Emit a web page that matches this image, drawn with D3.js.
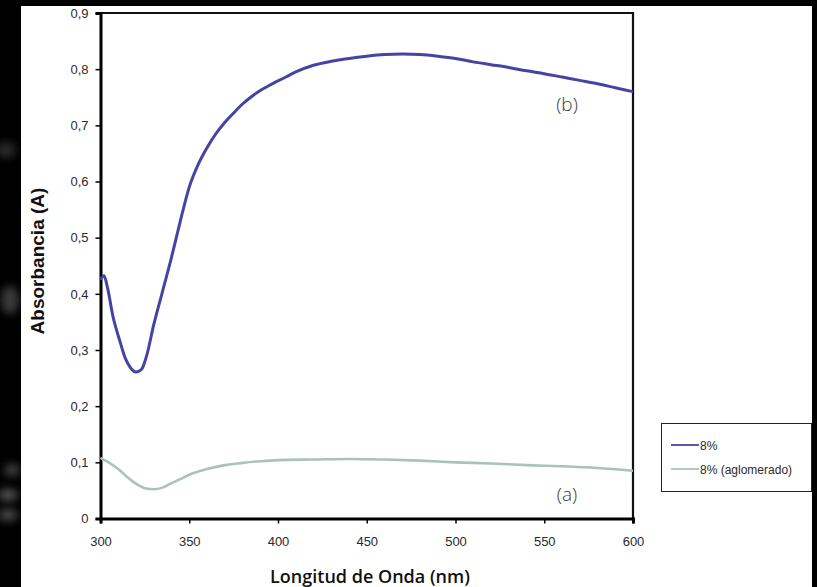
<!DOCTYPE html>
<html>
<head>
<meta charset="utf-8">
<script src="https://cdn.jsdelivr.net/npm/d3@7/dist/d3.min.js"></script>
<style>
  html, body { margin: 0; padding: 0; background: #000; }
  svg { display: block; }
</style>
</head>
<body>
<svg id="chart" width="817" height="587"></svg>
<script>
// Absorbance spectra (wavelength in nm, absorbance in A)
const wavelengthsB = [300, 302, 304, 307, 311, 314, 317, 320, 323, 326, 330, 335, 340, 345, 350, 355, 360, 365, 370, 375, 380, 385, 390, 395, 400, 405, 410, 420, 430, 440, 450, 460, 470, 480, 490, 500, 510, 520, 530, 540, 550, 560, 570, 580, 590, 600];
const absorbanceB = [0.425, 0.432, 0.410, 0.360, 0.315, 0.285, 0.268, 0.261, 0.265, 0.290, 0.345, 0.405, 0.465, 0.530, 0.590, 0.630, 0.660, 0.685, 0.705, 0.722, 0.738, 0.751, 0.762, 0.771, 0.779, 0.787, 0.795, 0.807, 0.814, 0.819, 0.823, 0.826, 0.827, 0.826, 0.823, 0.819, 0.813, 0.808, 0.803, 0.797, 0.792, 0.786, 0.780, 0.774, 0.767, 0.760];

const wavelengthsA = [300, 305, 310, 315, 320, 325, 330, 335, 340, 345, 350, 360, 370, 380, 390, 400, 420, 440, 460, 480, 500, 520, 540, 560, 580, 600];
const absorbanceA = [0.108, 0.099, 0.088, 0.074, 0.062, 0.054, 0.052, 0.055, 0.063, 0.070, 0.078, 0.088, 0.095, 0.099, 0.102, 0.104, 0.105, 0.106, 0.105, 0.103, 0.100, 0.098, 0.095, 0.093, 0.090, 0.085];

const seriesNames = ["8%", "8% (aglomerado)"];
const seriesColors = ["#4444a4", "#a9c3ba"];
const curveLabels = ["(b)", "(a)"];

const xTicks = [300, 350, 400, 450, 500, 550, 600];
const yTicks = [0, 0.1, 0.2, 0.3, 0.4, 0.5, 0.6, 0.7, 0.8, 0.9];

const svg = d3.select("#chart");

// soft grey smudges on the dark left margin
const defs = svg.append("defs");
defs.append("filter").attr("id", "soft")
  .attr("x", "-50%").attr("y", "-50%").attr("width", "200%").attr("height", "200%")
  .append("feGaussianBlur").attr("stdDeviation", 4);
const smudges = [
  { cx: 6, cy: 150, rx: 10, ry: 8, c: "#2a2a2a" },
  { cx: 10, cy: 300, rx: 9, ry: 14, c: "#3a3a3a" },
  { cx: 12, cy: 470, rx: 8, ry: 6, c: "#444" },
  { cx: 8, cy: 495, rx: 10, ry: 6, c: "#555" },
  { cx: 8, cy: 515, rx: 10, ry: 6, c: "#4a4a4a" }
];
svg.append("g").attr("filter", "url(#soft)")
  .selectAll("ellipse").data(smudges).join("ellipse")
  .attr("cx", d => d.cx).attr("cy", d => d.cy)
  .attr("rx", d => d.rx).attr("ry", d => d.ry)
  .attr("fill", d => d.c);

// white sheet
svg.append("rect")
  .attr("x", 21).attr("y", 6)
  .attr("width", 791).attr("height", 581)
  .attr("fill", "#fff");

const plot = { left: 100.5, right: 633, top: 13, bottom: 518.5 };

const x = d3.scaleLinear().domain([300, 600]).range([plot.left, plot.right]);
const y = d3.scaleLinear().domain([0, 0.9]).range([plot.bottom, plot.top]);

const fmtY = v => v === 0 ? "0" : d3.format(".1f")(v).replace(".", ",");

// frame: top and right sides
svg.append("path")
  .attr("d", `M${plot.left},${plot.top}H${plot.right}V${plot.bottom}`)
  .attr("fill", "none")
  .attr("stroke", "#111")
  .attr("stroke-width", 2.2);

const tickFont = sel => sel
  .attr("fill", "#2a2a2a")
  .style("font-family", "'Liberation Sans', Arial, sans-serif")
  .style("font-size", "13px");

// y axis
const yAxis = svg.append("g")
  .attr("transform", `translate(${plot.left},0)`)
  .call(d3.axisLeft(y).tickValues(yTicks).tickFormat(fmtY).tickSize(5).tickPadding(7));
yAxis.select(".domain").attr("stroke", "#000").attr("stroke-width", 3);
yAxis.selectAll(".tick line").attr("stroke", "#000").attr("stroke-width", 1.5);
yAxis.selectAll(".tick text").call(tickFont);

// x axis
const xAxis = svg.append("g")
  .attr("transform", `translate(0,${plot.bottom})`)
  .call(d3.axisBottom(x).tickValues(xTicks).tickFormat(d3.format("d")).tickSize(5).tickPadding(13));
xAxis.select(".domain").attr("stroke", "#000").attr("stroke-width", 3);
xAxis.selectAll(".tick line").attr("stroke", "#000").attr("stroke-width", 1.5);
xAxis.selectAll(".tick text").call(tickFont);

// axis titles
svg.append("text")
  .attr("x", 370).attr("y", 583)
  .attr("text-anchor", "middle")
  .style("font-family", "'Open Sans', sans-serif")
  .style("font-weight", 600)
  .style("font-size", "18px")
  .attr("fill", "#111")
  .text("Longitud de Onda (nm)");

svg.append("text")
  .attr("transform", "translate(44,261) rotate(-90)")
  .attr("text-anchor", "middle")
  .style("font-family", "'Liberation Sans', Arial, sans-serif")
  .style("font-weight", "bold")
  .style("font-size", "19px")
  .attr("fill", "#111")
  .text("Absorbancia (A)");

// spectra
const line = d3.line()
  .x(d => x(d[0]))
  .y(d => y(d[1]))
  .curve(d3.curveMonotoneX);

const dataB = wavelengthsB.map((w, i) => [w, absorbanceB[i]]);
const dataA = wavelengthsA.map((w, i) => [w, absorbanceA[i]]);

svg.append("path")
  .datum(dataA)
  .attr("d", line)
  .attr("fill", "none")
  .attr("stroke", seriesColors[1])
  .attr("stroke-width", 2.6)
  .attr("stroke-linejoin", "round");

svg.append("path")
  .datum(dataB)
  .attr("d", line)
  .attr("fill", "none")
  .attr("stroke", seriesColors[0])
  .attr("stroke-width", 3)
  .attr("stroke-linejoin", "round");

// curve annotations
const labelStyle = sel => sel
  .attr("text-anchor", "middle")
  .style("font-family", "'Open Sans', sans-serif")
  .style("font-weight", 300)
  .style("font-size", "19px")
  .attr("fill", "#3a3a3a");

svg.append("text").attr("x", 567).attr("y", 111).call(labelStyle).text(curveLabels[0]);
svg.append("text").attr("x", 567).attr("y", 501).call(labelStyle).text(curveLabels[1]);

// legend
const legend = svg.append("g");
legend.append("rect")
  .attr("x", 661.5).attr("y", 423.5)
  .attr("width", 150).attr("height", 68)
  .attr("fill", "#fff")
  .attr("stroke", "#222")
  .attr("stroke-width", 1);

seriesNames.forEach((name, i) => {
  const ly = 445 + i * 24;
  legend.append("line")
    .attr("x1", 671).attr("x2", 699)
    .attr("y1", ly).attr("y2", ly)
    .attr("stroke", seriesColors[i])
    .attr("stroke-width", 1.8);
  legend.append("text")
    .attr("x", 700).attr("y", ly + 4.5)
    .style("font-family", "'Liberation Sans', Arial, sans-serif")
    .style("font-size", "12px")
    .attr("fill", "#2a2a2a")
    .text(name);
});
</script>
</body>
</html>
